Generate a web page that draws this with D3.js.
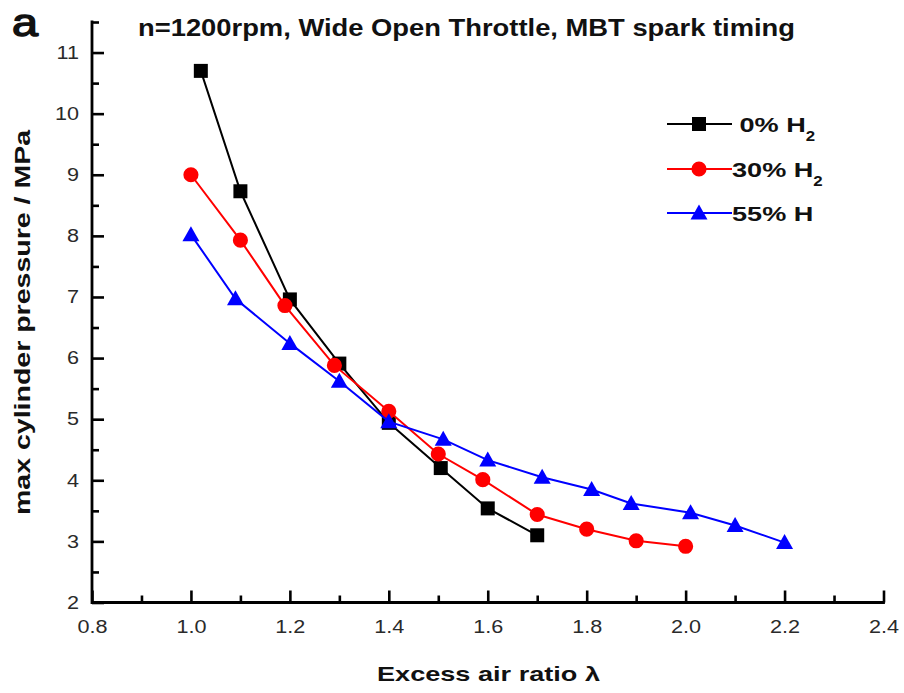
<!DOCTYPE html>
<html>
<head>
<meta charset="utf-8">
<script src="https://cdn.jsdelivr.net/npm/d3@7"></script>
<style>
  body { margin: 0; background: #fff; }
  svg { display: block; }
  text { font-family: "Liberation Sans", Arial, Helvetica, sans-serif; }
</style>
</head>
<body>
<svg id="chart" width="904" height="693"></svg>
<script>
// Excess air ratio (λ) and peak cylinder pressure (MPa) for each hydrogen blend
const lambdaH0  = [1.02, 1.1, 1.2, 1.3, 1.4, 1.505, 1.6, 1.7];
const pressH0   = [10.7, 8.73, 6.96, 5.91, 4.94, 4.2, 3.54, 3.1];

const lambdaH30 = [1.0, 1.1, 1.19, 1.29, 1.4, 1.5, 1.59, 1.7, 1.8, 1.9, 2.0];
const pressH30  = [9.0, 7.93, 6.86, 5.88, 5.13, 4.43, 4.01, 3.44, 3.2, 3.01, 2.92];

const lambdaH55 = [1.0, 1.09, 1.2, 1.3, 1.4, 1.51, 1.6, 1.71, 1.81, 1.89, 2.01, 2.1, 2.2];
const pressH55  = [8.02, 6.97, 6.24, 5.62, 4.96, 4.67, 4.33, 4.05, 3.85, 3.62, 3.47, 3.26, 2.98];

const seriesLabels = ["\u00a00% H", "30% H", "55% H"];
const seriesSubs   = ["2", "2", ""];
const seriesColors = ["#000000", "#ff0000", "#0000ff"];
const seriesShapes = ["square", "circle", "triangle"];

const xTicks = [0.8, 1.0, 1.2, 1.4, 1.6, 1.8, 2.0, 2.2, 2.4];
const xMinorTicks = [0.9, 1.1, 1.3, 1.5, 1.7, 1.9, 2.1, 2.3];
const yTicks = [2, 3, 4, 5, 6, 7, 8, 9, 10, 11];
const yMinorTicks = [2.5, 3.5, 4.5, 5.5, 6.5, 7.5, 8.5, 9.5, 10.5, 11.5];

const panelLetter = "a";
const titleText = "n=1200rpm, Wide Open Throttle, MBT spark timing";
const xTitle = "Excess air ratio \u03bb";
const yTitle = "max cylinder pressure / MPa";

// ---------------------------------------------------------------
const svg = d3.select("#chart");

const x = d3.scaleLinear().domain([0.8, 2.4]).range([92, 883.5]);
const y = d3.scaleLinear().domain([2, 11.5]).range([602.5, 22]);

// Widen glyphs horizontally by a factor, keeping the anchor point fixed
function widen(sel, k) {
  sel.each(function () {
    const w = this.getComputedTextLength();
    d3.select(this).attr("textLength", w * k).attr("lengthAdjust", "spacingAndGlyphs");
  });
}

// Axes (ticks point into the plot)
const xAxis = svg.append("g").attr("transform", `translate(0,${y(2)})`)
  .call(d3.axisBottom(x).tickValues(xTicks).tickSizeInner(-12).tickSizeOuter(0)
    .tickPadding(18).tickFormat(d3.format(".1f")));
const xMinor = svg.append("g").attr("transform", `translate(0,${y(2)})`)
  .call(d3.axisBottom(x).tickValues(xMinorTicks).tickSizeInner(-7).tickSizeOuter(0).tickFormat(""));
const yAxis = svg.append("g").attr("transform", `translate(${x(0.8)},0)`)
  .call(d3.axisLeft(y).tickValues(yTicks).tickSizeInner(-12).tickSizeOuter(0)
    .tickPadding(13).tickFormat(d3.format("d")));
const yMinor = svg.append("g").attr("transform", `translate(${x(0.8)},0)`)
  .call(d3.axisLeft(y).tickValues(yMinorTicks).tickSizeInner(-7).tickSizeOuter(0).tickFormat(""));

[xAxis, xMinor, yAxis, yMinor].forEach(g => {
  g.select(".domain").remove();
  g.selectAll(".tick line").attr("stroke", "#000").attr("stroke-width", 2.6);
  g.selectAll(".tick text").attr("font-size", 18).attr("fill", "#2a2a2a");
});
widen(xAxis.selectAll(".tick text"), 1.2);
widen(yAxis.selectAll(".tick text"), 1.2);

// Axis frame (left and bottom only)
svg.append("path")
  .attr("d", `M${x(0.8)},${y(11.5)}V${y(2)}H${x(2.4)}`)
  .attr("fill", "none").attr("stroke", "#000").attr("stroke-width", 2.8)
  .attr("stroke-linejoin", "miter").attr("stroke-linecap", "square");

// Series
const series = [
  { xs: lambdaH0,  ys: pressH0 },
  { xs: lambdaH30, ys: pressH30 },
  { xs: lambdaH55, ys: pressH55 }
];

function markerPath(shape) {
  if (shape === "square") return "M-7,-7H7V7H-7Z";
  if (shape === "circle") return d3.symbol(d3.symbolCircle, 180)();
  return "M0,-8.5L8.5,6.5H-8.5Z";
}

const line = d3.line().x(d => x(d[0])).y(d => y(d[1]));

series.forEach((s, i) => {
  const pts = s.xs.map((v, j) => [v, s.ys[j]]);
  const g = svg.append("g");
  g.append("path").datum(pts).attr("d", line)
    .attr("fill", "none").attr("stroke", seriesColors[i]).attr("stroke-width", 2);
  g.selectAll("path.mk").data(pts).join("path").attr("class", "mk")
    .attr("transform", d => `translate(${x(d[0])},${y(d[1])})`)
    .attr("d", markerPath(seriesShapes[i]))
    .attr("fill", seriesColors[i]);
});

// Legend
const legendRows = [124, 169, 213];
const legend = svg.append("g");
seriesLabels.forEach((lab, i) => {
  const ry = legendRows[i];
  legend.append("line").attr("x1", 667).attr("x2", 732).attr("y1", ry).attr("y2", ry)
    .attr("stroke", seriesColors[i]).attr("stroke-width", 2);
  legend.append("path").attr("transform", `translate(699,${ry})`)
    .attr("d", markerPath(seriesShapes[i])).attr("fill", seriesColors[i]);
  const t = legend.append("text").attr("x", 732).attr("y", ry + 8)
    .attr("font-size", 21).attr("font-weight", "bold").attr("fill", "#111").text(lab);
  widen(t, 1.29);
  if (seriesSubs[i]) {
    const endX = 732 + +t.attr("textLength");
    const st = legend.append("text").attr("x", endX).attr("y", ry + 17)
      .attr("font-size", 14).attr("font-weight", "bold").attr("fill", "#111").text(seriesSubs[i]);
    widen(st, 1.2);
  }
});

// Titles
svg.append("text").attr("x", 138).attr("y", 36)
  .attr("font-size", 24).attr("font-weight", "bold").attr("fill", "#111")
  .attr("textLength", 657).attr("lengthAdjust", "spacingAndGlyphs")
  .text(titleText);

const letter = svg.append("text").attr("x", 12).attr("y", 36)
  .attr("font-size", 39).attr("fill", "#111")
  .attr("stroke", "#111").attr("stroke-width", 1.4).attr("stroke-linejoin", "round")
  .text(panelLetter);
widen(letter, 1.2);

svg.append("text").attr("x", 488.5).attr("y", 681)
  .attr("text-anchor", "middle").attr("font-size", 21).attr("font-weight", "bold").attr("fill", "#111")
  .attr("textLength", 223).attr("lengthAdjust", "spacingAndGlyphs")
  .text(xTitle);

svg.append("text").attr("transform", "translate(30,322.5) rotate(-90)")
  .attr("text-anchor", "middle").attr("font-size", 22).attr("font-weight", "bold").attr("fill", "#111")
  .attr("textLength", 385).attr("lengthAdjust", "spacingAndGlyphs")
  .text(yTitle);
</script>
</body>
</html>
